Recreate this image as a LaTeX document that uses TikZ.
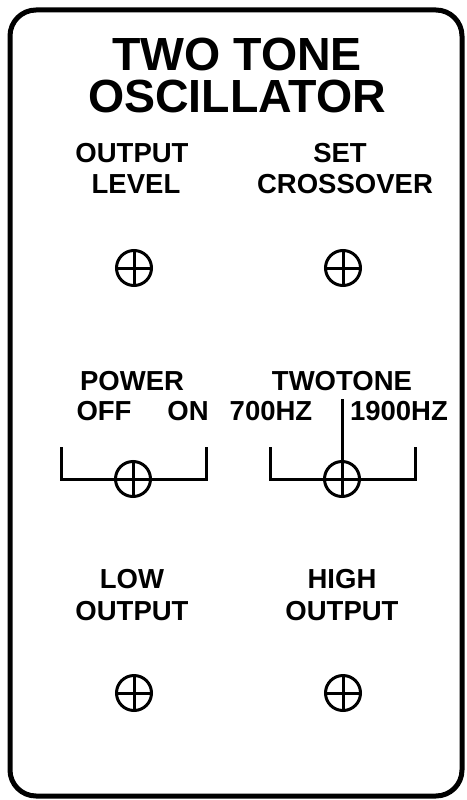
\documentclass[tikz,border=0pt]{standalone}
\usepackage{fontspec}
\setmainfont{Liberation Sans}

\begin{document}
\begin{tikzpicture}[x=1pt, y=-1pt,
    every node/.style={inner sep=0pt, font=\bfseries\fontsize{27.5}{30}\selectfont},
    title/.style={anchor=base, align=center, font=\bfseries\fontsize{46.5}{42}\selectfont},
    tag/.style={anchor=base},
    knob/.style={circle, draw, line width=3pt, minimum size=35pt},
    wire/.style={line width=3pt}
]
\useasboundingbox (0,0) rectangle (466,800);

% Rahmen
\draw[line width=5pt, rounded corners=26pt] (10,10) rectangle (462,796);

% Titel
\node[title] (title) at (237,112) {TWO TONE\\OSCILLATOR};

% Beschriftungen
\node[tag] (ol1) at (132,162) {OUTPUT};
\node[tag] (ol2) at (136,193) {LEVEL};
\node[tag] (sc1) at (340,162) {SET};
\node[tag] (sc2) at (345,193) {CROSSOVER};
\node[tag] (pw1) at (132,390) {POWER};
\node[tag] (tt1) at (342,390) {TWOTONE};
\node[tag] (off) at (104,420) {OFF};
\node[tag] (on)  at (188,420) {ON};
\node[tag] (lo)  at (271,420) {700HZ};
\node[tag] (hi)  at (399,420) {1900HZ};
\node[tag] (lw1) at (132,588) {LOW};
\node[tag] (lw2) at (132,620) {OUTPUT};
\node[tag] (hg1) at (342,588) {HIGH};
\node[tag] (hg2) at (342,620) {OUTPUT};

% Regler und Buchsen
\node[knob] (k1) at (134,268) {};
\node[knob] (k2) at (343,268) {};
\node[knob] (pw) at (133,479) {};
\node[knob] (tt) at (342,479) {};
\node[knob] (j1) at (134,693) {};
\node[knob] (j2) at (343,693) {};

\foreach \k in {k1,k2,pw,tt,j1,j2}{
  \draw[wire] (\k.north) -- (\k.south);
  \draw[wire] (\k.west) -- (\k.east);
}

% Schalter
\coordinate (pwL) at (61,447);
\coordinate (pwR) at (206,447);
\coordinate (ttL) at (270,447);
\coordinate (ttR) at (415,447);
\coordinate (ttT) at (342,399);

\draw[wire] (pwL) |- (pw.west);
\draw[wire] (pw.east) -| (pwR);
\draw[wire] (ttL) |- (tt.west);
\draw[wire] (tt.east) -| (ttR);
\draw[wire] (ttT) -- (tt.north);

\end{tikzpicture}
\end{document}
